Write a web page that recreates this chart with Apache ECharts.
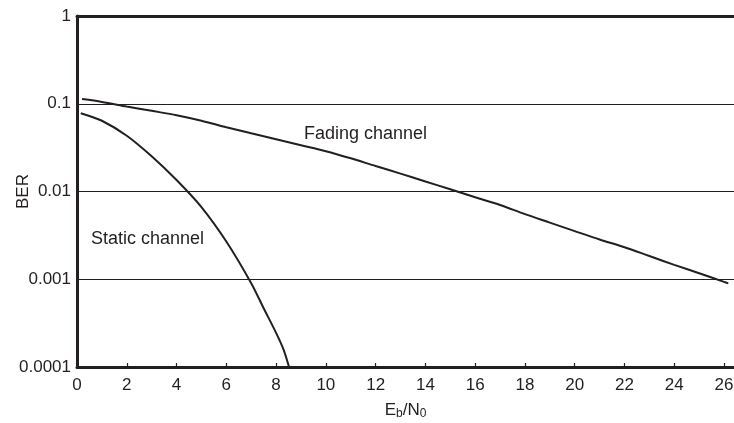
<!DOCTYPE html>
<html>
<head>
<meta charset="utf-8">
<script src="https://cdn.jsdelivr.net/npm/echarts@6/dist/echarts.min.js"></script>
<style>
html,body{margin:0;padding:0;background:#fff;}
#c{width:734px;height:423px;}
</style>
</head>
<body>
<div id="c"></div>
<script>
const xTicks = [0, 2, 4, 6, 8, 10, 12, 14, 16, 18, 20, 22, 24, 26];
const yTicks = [0.0001, 0.001, 0.01, 0.1, 1];
const yTickLabels = ['0.0001', '0.001', '0.01', '0.1', '1'];

const fadingX = [0.2, 1, 2, 3, 4, 5, 6, 7, 8, 9, 10, 11, 12, 13, 14, 15, 16, 17, 18, 19, 20, 21, 22, 23, 24, 25, 26, 26.17];
const fadingY = [0.113, 0.105, 0.093, 0.083, 0.074, 0.064, 0.054, 0.046, 0.0394, 0.0337, 0.0288, 0.0239, 0.0195, 0.0160, 0.0130, 0.0106, 0.00859, 0.00703, 0.00552, 0.00442, 0.00354, 0.00284, 0.00232, 0.00184, 0.00146, 0.00117, 0.000933, 0.000897];

const staticX = [0.15, 1, 2, 3, 4, 5, 6, 7, 7.5, 8, 8.3, 8.52];
const staticY = [0.078, 0.064, 0.0432, 0.0252, 0.0135, 0.00664, 0.00269, 0.000902, 0.000468, 0.000245, 0.000158, 0.0001];

const labels = ['Fading channel', 'Static channel'];

const ink = '#231f20';
const fontFam = '"Liberation Sans", Arial, sans-serif';

const chart = echarts.init(document.getElementById('c'), null, {renderer: 'canvas'});
chart.setOption({
  animation: false,
  backgroundColor: '#fff',
  grid: {left: 77, right: 0, top: 16, bottom: 56, containLabel: false, outerBoundsMode: 'none'},
  xAxis: [{
    type: 'value', min: 0, max: 26.4, interval: 2, position: 'bottom',
    name: 'E{sub|b}/N{sub|0}', nameLocation: 'middle', nameGap: 33, nameMoveOverlap: false,
    nameTextStyle: {
      fontFamily: fontFam, fontSize: 17, color: ink,
      rich: {sub: {fontFamily: fontFam, fontSize: 12, color: ink, verticalAlign: 'bottom', padding: [8, 0, 0, 0]}}
    },
    axisLine: {show: true, lineStyle: {color: ink, width: 3}},
    axisTick: {show: true, inside: true, length: 4, lineStyle: {color: ink, width: 1.2}, customValues: xTicks},
    axisLabel: {fontFamily: fontFam, fontSize: 17, color: ink, margin: 10, customValues: xTicks},
    splitLine: {show: false}
  }, {
    type: 'value', min: 0, max: 26.4, position: 'top',
    axisLine: {show: true, lineStyle: {color: ink, width: 3}},
    axisTick: {show: false}, axisLabel: {show: false}, splitLine: {show: false}
  }],
  yAxis: {
    type: 'log', logBase: 10, min: 0.0001, max: 1,
    name: 'BER', nameLocation: 'middle', nameGap: 45, nameMoveOverlap: false,
    nameTextStyle: {fontFamily: fontFam, fontSize: 17, color: ink},
    axisLine: {show: true, lineStyle: {color: ink, width: 3}},
    axisTick: {show: false},
    axisLabel: {
      fontFamily: fontFam, fontSize: 17, color: ink, margin: 6,
      formatter: function (v) {
        let best = 0, bd = Infinity;
        yTicks.forEach((t, i) => { const d = Math.abs(Math.log10(t) - Math.log10(v)); if (d < bd) { bd = d; best = i; } });
        return yTickLabels[best];
      }
    },
    splitLine: {show: true, lineStyle: {color: ink, width: 1.2}}
  },
  series: [{
    type: 'line', name: labels[0], smooth: 0.3, showSymbol: false,
    data: fadingX.map((x, i) => [x, fadingY[i]]),
    lineStyle: {color: ink, width: 2}
  }, {
    type: 'line', name: labels[1], smooth: 0.3, showSymbol: false,
    data: staticX.map((x, i) => [x, staticY[i]]),
    lineStyle: {color: ink, width: 2}
  }],
  graphic: [
    {type: 'text', left: 304, top: 125, style: {text: labels[0], fontFamily: fontFam, fontSize: 18, fill: ink}},
    {type: 'text', left: 91, top: 230, style: {text: labels[1], fontFamily: fontFam, fontSize: 18, fill: ink}}
  ]
});
</script>
</body>
</html>
